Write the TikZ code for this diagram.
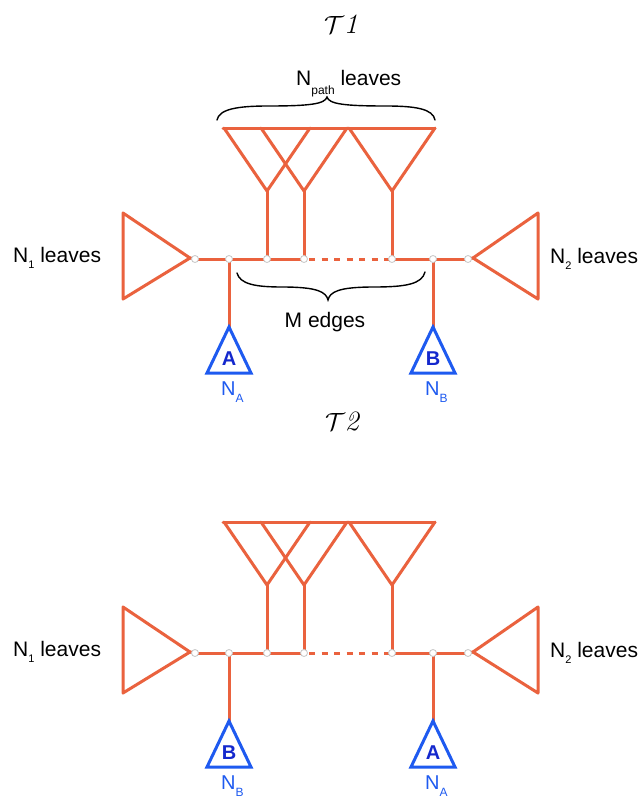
\documentclass[tikz,border=0pt]{standalone}
\usepackage{fontspec}
\setmainfont{Liberation Sans}
\newfontfamily\lmr{Latin Modern Roman}
\definecolor{treeorange}{RGB}{234,98,62}
\definecolor{treeblue}{RGB}{30,90,240}
\definecolor{letterblue}{RGB}{20,40,205}
\newcommand\sub[3][6pt]{\raisebox{-#1}{\fontsize{#2}{#2}\selectfont #3}}
\tikzset{
  edge/.style={draw=treeorange, line width=3pt, line cap=round, line join=round},
  dashedge/.style={draw=treeorange, line width=3pt, dash pattern=on 6pt off 6.5pt, dash phase=-5pt},
  subtree/.style={draw=treeblue, line width=3pt, line join=miter},
  dot/.style={circle, fill=white, draw=gray!45, line width=0.8pt, minimum size=7pt, inner sep=0pt},
  bracepath/.style={draw=black, line width=1.4pt, line cap=round},
  lbl/.style={inner sep=0pt, font=\fontsize{21}{21}\selectfont},
  nlab/.style={inner sep=0pt, text=treeblue, font=\fontsize{20}{20}\selectfont},
  letter/.style={inner sep=0pt, text=letterblue, font=\fontsize{20}{20}\selectfont\bfseries},
  titlelab/.style={inner sep=0pt, font=\fontsize{28}{28}\selectfont\lmr\itshape},
}
% #1 prefix, #2 backbone y, #3 left subtree letter, #4 right subtree letter
\newcommand\onetree[4]{%
  \coordinate (#1a) at (195,#2);
  \coordinate (#1b) at (229,#2);
  \coordinate (#1c) at (267,#2);
  \coordinate (#1d) at (304,#2);
  \coordinate (#1e) at (392,#2);
  \coordinate (#1f) at (433,#2);
  \coordinate (#1g) at (468,#2);
  % left leaf triangle
  \coordinate (#1L) at (190,{#2-1});
  \draw[edge] (#1L) -- (123,{#2-46}) -- (123,{#2+40}) -- cycle;
  \draw[edge] (#1L) -- (#1a);
  % right leaf triangle
  \coordinate (#1R) at (473,{#2-1});
  \draw[edge] (#1R) -- (538,{#2-46}) -- (538,{#2+40}) -- cycle;
  \draw[edge] (#1g) -- (#1R);
  % backbone
  \draw[edge] (#1a) -- (#1b) -- (#1c) -- (#1d);
  \draw[dashedge] (#1d) -- (#1e);
  \draw[edge] (#1e) -- (#1f) -- (#1g);
  % path leaf triangles
  \coordinate (#1p1) at (267,{#2-68});
  \coordinate (#1p2) at (304,{#2-68});
  \coordinate (#1p3) at (392,{#2-68});
  \draw[edge] (#1c) -- (#1p1);
  \draw[edge] (#1d) -- (#1p2);
  \draw[edge] (#1e) -- (#1p3);
  \draw[edge] (224,{#2-131}) -- (#1p1) -- (310,{#2-131});
  \draw[edge] (261,{#2-131}) -- (#1p2) -- (347,{#2-131});
  \draw[edge] (349,{#2-131}) -- (#1p3) -- (435,{#2-131});
  \draw[edge] (223,{#2-131}) -- (435,{#2-131});
  % hanging subtrees
  \coordinate (#1q) at (229,{#2+68});
  \coordinate (#1r) at (433,{#2+68});
  \draw[edge] (#1b) -- (#1q);
  \draw[edge] (#1f) -- (#1r);
  \draw[subtree] (#1q) -- ++(-22,46) -- ++(44,0) -- cycle;
  \draw[subtree] (#1r) -- ++(-22,46) -- ++(44,0) -- cycle;
  \node[letter] (#1qt) at (229,{#2+100}) {#3};
  \node[letter] (#1rt) at (433,{#2+100}) {#4};
  \node[nlab, anchor=base west] (#1qn) at (221,{#2+136}) {N\sub[7pt]{12}{#3}};
  \node[nlab, anchor=base west] (#1rn) at (425,{#2+136}) {N\sub[7pt]{12}{#4}};
  % side labels
  \node[lbl, anchor=base west] (#1n1) at (13,{#2+3}) {N\sub{11}{1} leaves};
  \node[lbl, anchor=base west] (#1n2) at (550,{#2+4}) {N\sub{11}{2} leaves};
  % junction dots
  \node[dot] (#1da) at (#1a) {};
  \node[dot] (#1db) at (#1b) {};
  \node[dot] (#1dc) at (#1c) {};
  \node[dot] (#1dd) at (#1d) {};
  \node[dot] (#1de) at (#1e) {};
  \node[dot] (#1df) at (#1f) {};
  \node[dot] (#1dg) at (#1g) {};
}
\begin{document}
\begin{tikzpicture}[x=1pt, y=-1pt]
  \useasboundingbox[fill=white] (0,0) rectangle (642,803);
  % titles
  \node[titlelab] (t1) at (341,24) {$\mathcal{T}$1};
  \node[titlelab] (t2) at (342,421) {$\mathcal{T}$2};
  % trees
  \onetree{u}{259}{A}{B}
  \onetree{l}{653}{B}{A}
  % top brace: N_path leaves
  \draw[bracepath] (217,120) .. controls (219,109) and (238,106) .. (268,106)
      .. controls (310,106) and (325,104) .. (327,97)
      .. controls (329,104) and (344,106) .. (386,106)
      .. controls (416,106) and (433,109) .. (435,120);
  \node[lbl, anchor=base west] (npath) at (296,85) {N\sub[9pt]{12}{path} leaves};
  % bottom brace: M edges
  \draw[bracepath] (237,273) .. controls (240,284) and (255,287) .. (282,287)
      .. controls (318,287) and (326,292) .. (328,300)
      .. controls (330,292) and (338,287) .. (374,287)
      .. controls (406,287) and (422,284) .. (425,272);
  \node[lbl, anchor=base] (medges) at (325,327) {M edges};
\end{tikzpicture}
\end{document}
